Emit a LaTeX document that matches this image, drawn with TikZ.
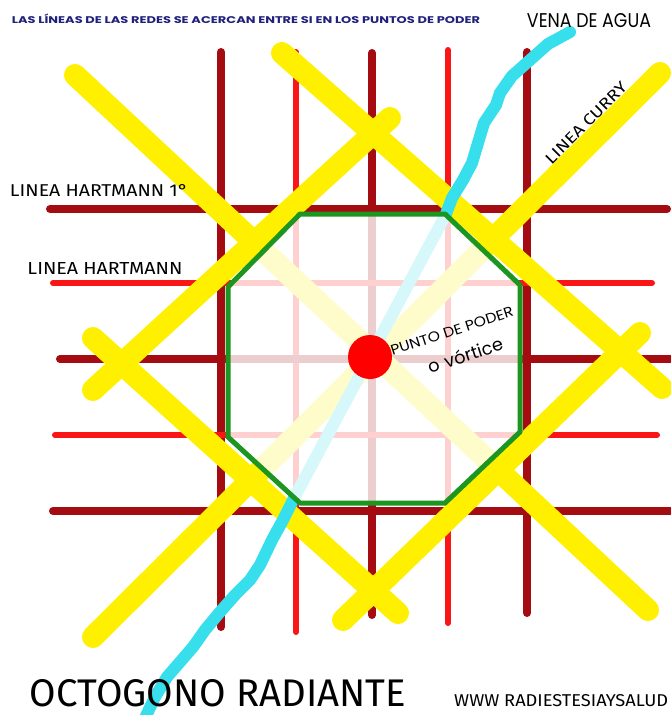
\documentclass[tikz,border=0pt]{standalone}
\usepackage{fontspec}
\usepackage{graphicx}
\setmainfont{Fira Sans}
\newfontfamily\geofont{Poppins}
\definecolor{dred}{RGB}{165,12,18}
\definecolor{bred}{RGB}{250,22,22}
\definecolor{cyel}{RGB}{255,240,0}
\definecolor{vcyan}{RGB}{55,222,236}
\definecolor{ogreen}{RGB}{28,150,32}
\definecolor{navy}{RGB}{32,32,125}
\newcommand\mybox[3]{\resizebox{#1pt}{#2pt}{#3}}
\tikzset{
  hartA/.style={draw=dred,line width=8pt,line cap=round},
  hartB/.style={draw=bred,line width=6pt,line cap=round},
  curry/.style={draw=cyel,line width=22pt,line cap=round},
  vena/.style={draw=vcyan,line width=12pt,line cap=round,line join=round},
  octo/.style={draw=ogreen,line width=5pt,line join=round},
  lbl/.style={inner sep=0pt,text=black},
}
\begin{document}
\begin{tikzpicture}[x=1pt,y=-1pt]
\clip (0,0) rectangle (671,715);
\fill[white] (0,0) rectangle (671,715);
% Hartmann grid: verticals
\draw[hartA] (221,52) -- (221,627);
\draw[hartB] (296,52) -- (296,632);
\draw[hartA] (372,53) -- (372,615);
\draw[hartB] (448,50) -- (448,623);
\draw[hartA] (527,52) -- (527,613);
% horizontals
\draw[hartA] (50,209) -- (667,209);
\draw[hartB] (53,283) -- (652,283);
\draw[hartA] (60,359) -- (685,359);
\draw[hartB] (55,435) -- (657,435);
\draw[hartA] (53,511) -- (685,511);
% Curry lines
\draw[curry] (282,53) -- (662,388);
\draw[curry] (93,338) -- (398,613);
\draw[curry] (660,73) -- (93,637);
\draw[curry] (75,75) -- (648,610);
\draw[curry] (93,390) -- (390,118);
\draw[curry] (343,620) -- (640,333);
% water vein
\draw[vena] (570,32) -- (548,44) -- (530,60) -- (512,76) -- (500,93) -- (496,105)
  -- (484,123) -- (478,143) -- (472,163) -- (463,180) -- (452,198) -- (446,214)
  -- (293,500) -- (283,520) -- (272,540) -- (260,565) -- (250,580) -- (235,595)
  -- (220,612) -- (205,630) -- (193,647) -- (180,662) -- (167,677) -- (155,697)
  -- (145,718);
% octagon
\fill[white,opacity=0.8] (300,214) -- (445,214) -- (520,285) -- (520,432)
  -- (445,503) -- (300,503) -- (228,437) -- (228,287) -- cycle;
\draw[octo] (300,214) -- (445,214) -- (520,285) -- (520,432)
  -- (445,503) -- (300,503) -- (228,437) -- (228,287) -- cycle;
\fill[red] (370,357) circle (22);
% texts
\node[lbl,text=navy] (title) at (246,19) {\mybox{468}{9.5}{\geofont\bfseries LAS LÍNEAS DE LAS REDES SE ACERCAN ENTRE SI EN LOS PUNTOS DE PODER}};
\node[lbl] (vena) at (589,21) {\mybox{124}{14}{\geofont VENA DE AGUA}};
\node[lbl] (h1) at (99,190) {\mybox{178}{12}{LINEA HARTMANN 1°}};
\node[lbl] (h2) at (105,268) {\mybox{155}{12}{LINEA HARTMANN}};
\node[lbl,rotate=45] (curry) at (586,123) {\mybox{108}{11}{LINEA CURRY}};
\node[lbl,rotate=18] (punto) at (452,331) {\mybox{128}{10}{\geofont PUNTO DE PODER}};
\node[lbl,rotate=18] (vort) at (465,355) {\resizebox{78pt}{!}{\geofont o\hspace{0.35em}vórtice}};
\node[lbl] (octo) at (218,693) {\mybox{376}{27}{OCTOGONO RADIANTE}};
\node[lbl,anchor=west] (www) at (454,701) {\mybox{214}{12}{WWW RADIESTESIAYSALUD}};
\end{tikzpicture}
\end{document}
